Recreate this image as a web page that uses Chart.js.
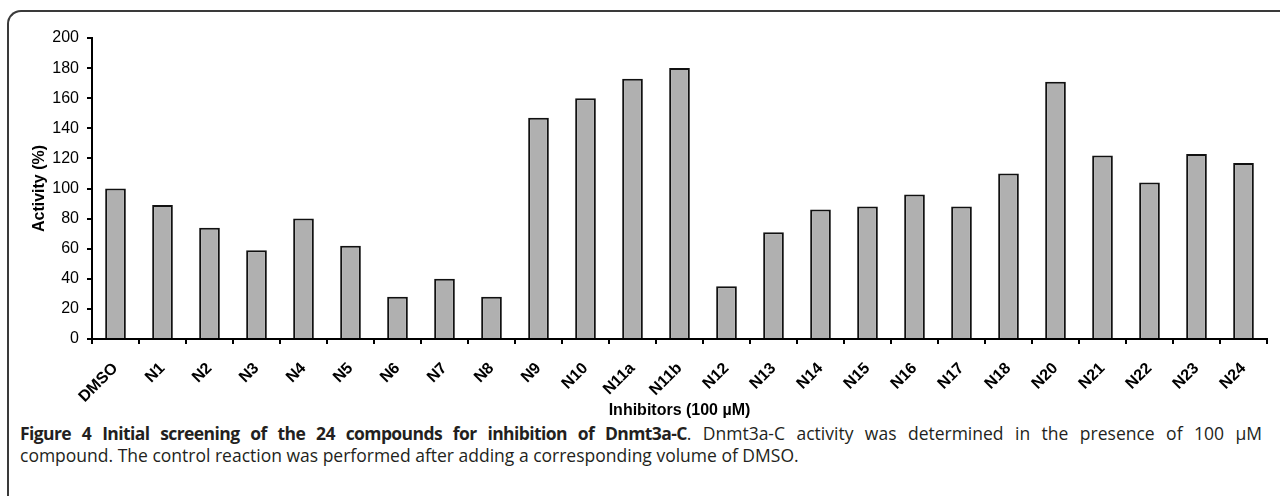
<!DOCTYPE html>
<html>
<head>
<meta charset="utf-8">
<script src="https://cdn.jsdelivr.net/npm/chart.js@4.4.1/dist/chart.umd.min.js"></script>
<style>
  html, body { margin: 0; padding: 0; background: #fff; }
  body { width: 1280px; height: 496px; position: relative; overflow: hidden; }
  /* figure frame: only top + left edges visible, rounded corner */
  .frame {
    position: absolute; left: 7px; top: 10px; width: 1320px; height: 540px;
    border-top: 2px solid #3a3a3a; border-left: 2px solid #3a3a3a;
    border-top-left-radius: 14px;
  }
  #chart { position: absolute; left: 0; top: 0; }
  .caption {
    position: absolute; left: 20px; top: 422px; width: 1242px;
    font-family: "Open Sans", sans-serif; font-size: 17.5px; line-height: 22px;
    color: #231f20; letter-spacing: 0;
  }
  .caption .l1 { text-align: justify; text-align-last: justify; white-space: nowrap; }
  .caption b { font-weight: 700; letter-spacing: -0.6px; }
</style>
</head>
<body>
<div class="frame"></div>
<canvas id="chart" width="1280" height="420"></canvas>
<div class="caption">
  <div class="l1"><b>Figure 4 Initial screening of the 24 compounds for inhibition of Dnmt3a-C</b>. Dnmt3a-C activity was determined in the presence of 100 µM</div>
  <div>compound. The control reaction was performed after adding a corresponding volume of DMSO.</div>
</div>
<script>
// compounds tested (x axis)
const compounds = ['DMSO','N1','N2','N3','N4','N5','N6','N7','N8','N9','N10','N11a','N11b',
                   'N12','N13','N14','N15','N16','N17','N18','N20','N21','N22','N23','N24'];
// relative Dnmt3a-C activity, % of DMSO control
const activity = [100, 89, 74, 59, 80, 62, 28, 40, 28, 147, 160, 173, 180,
                  35, 71, 86, 88, 96, 88, 110, 171, 122, 104, 123, 117];
const yMin = 0, yMax = 200, yStep = 20;

Chart.defaults.font.family = '"Liberation Sans", Arial, sans-serif';
Chart.defaults.color = '#000';

new Chart(document.getElementById('chart'), {
  type: 'bar',
  data: {
    labels: compounds,
    datasets: [{
      data: activity,
      backgroundColor: '#b0b0b0',
      borderColor: '#111',
      borderWidth: 2,
      categoryPercentage: 1,
      barPercentage: 0.44
    }]
  },
  options: {
    responsive: false,
    animation: false,
    layout: { padding: { left: 30, right: 13, top: 38, bottom: 0 } },
    plugins: { legend: { display: false }, tooltip: { enabled: false } },
    scales: {
      x: {
        grid: { drawOnChartArea: false, drawTicks: true, tickLength: 5, color: '#000', lineWidth: 2, offset: true },
        border: { display: true, color: '#000', width: 2 },
        ticks: { font: { size: 16, weight: 'bold' }, minRotation: 45, maxRotation: 45, padding: 15 },
        title: { display: true, text: 'Inhibitors (100 µM)', font: { size: 16, weight: 'bold' }, padding: { top: 0, bottom: 0 } },
        afterFit: s => { s.height = 81; }
      },
      y: {
        min: yMin, max: yMax,
        grid: { drawOnChartArea: false, drawTicks: true, tickLength: 5, color: '#000', lineWidth: 2 },
        border: { display: true, color: '#000', width: 2 },
        ticks: { stepSize: yStep, font: { size: 16 }, padding: 8 },
        title: { display: true, text: 'Activity (%)', font: { size: 16, weight: 'bold' }, padding: { top: 0, bottom: 0 } },
        afterFit: s => { s.width = 62; }
      }
    }
  }
});
</script>
</body>
</html>
